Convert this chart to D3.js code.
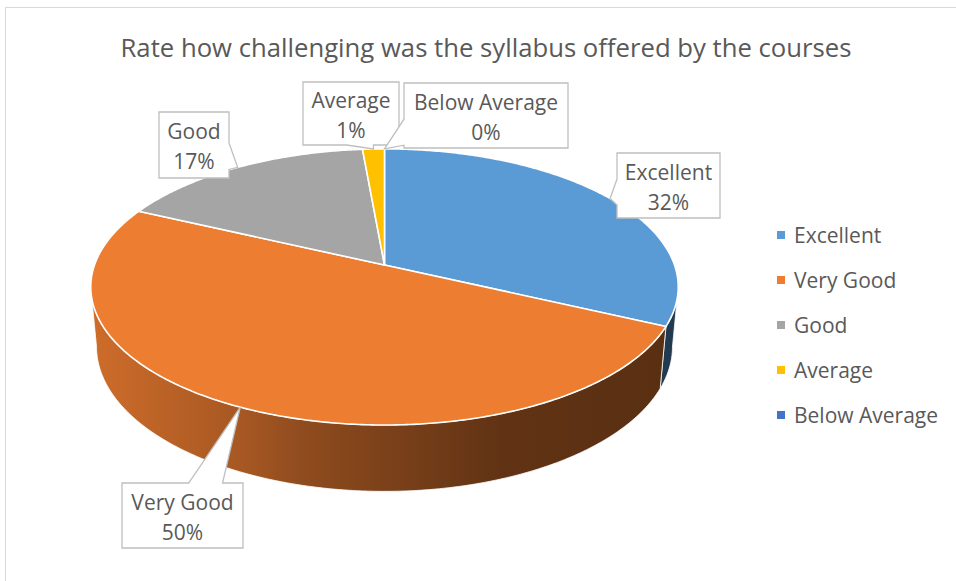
<!DOCTYPE html>
<html>
<head>
<meta charset="utf-8">
<script src="https://cdn.jsdelivr.net/npm/d3@7"></script>
<style>
  body { margin: 0; background: #fff; }
  svg { display: block; }
</style>
</head>
<body>
<script>
// chart data
var categories = ['Excellent', 'Very Good', 'Good', 'Average', 'Below Average'];
var values = [32, 50, 16.6, 1.4, 0];
var colors = ['#5B9BD5', '#ED7D31', '#A5A5A5', '#FFC000', '#4472C4'];
var chartTitle = 'Rate how challenging was the syllabus offered by the courses';

var width = 956, height = 581;
var font = '"Open Sans", "Noto Sans", sans-serif', textColor = '#595959';

// 3d pie geometry (camera tilted looking down at the disc)
var cx = 384.5, cy = 265, R = 290, tilt = Math.asin(0.464), camDist = 1616, thick = 68;

// label boxes (layout only)
var labelBoxes = [
    { x: 617, y: 153, w: 103, h: 65 },
    { x: 122, y: 483, w: 121, h: 65 },
    { x: 159, y: 112, w: 70, h: 66 },
    { x: 303, y: 82, w: 96, h: 63 },
    { x: 404, y: 83, w: 164, h: 65 }
];

var color = d3.scaleOrdinal().domain(categories).range(colors);
var total = d3.sum(values);
var pct = function (v) { return Math.round(v / total * 100) + '%'; };

var pie = d3.pie().sort(null).value(function (d) { return d.value; })
    .startAngle(0).endAngle(2 * Math.PI);
var slices = pie(categories.map(function (c, i) { return { name: c, value: values[i] }; }));

function project(theta, r, y) {
    var x = r * Math.sin(theta), z = -r * Math.cos(theta);
    var d = z * Math.cos(tilt) - y * Math.sin(tilt);
    var sy = z * Math.sin(tilt) + y * Math.cos(tilt);
    var s = camDist / (camDist - d);
    return [cx + x * s, cy + sy * s];
}

function arcPoints(a0, a1, y) {
    var n = Math.max(2, Math.ceil(Math.abs(a1 - a0) / 0.01)), pts = [];
    for (var k = 0; k <= n; k++) pts.push(project(a0 + (a1 - a0) * k / n, R, y));
    return pts;
}

var line = d3.line();

var svg = d3.select('body').append('svg')
    .attr('width', width)
    .attr('height', height);

// chart frame
svg.append('rect')
    .attr('x', 5.5).attr('y', 7.5)
    .attr('width', 1000).attr('height', 1000)
    .attr('fill', '#fff')
    .attr('stroke', '#D9D9D9');

// title
svg.append('text')
    .attr('x', 486).attr('y', 57)
    .attr('text-anchor', 'middle')
    .attr('font-family', font)
    .attr('font-size', '25.7px')
    .attr('fill', textColor)
    .text(chartTitle);

// wall gradients
var defs = svg.append('defs');
var shade = [[0, 0.4], [0.27, 1.04], [0.36, 1.42], [0.7, 2.5], [1, 2.75]];
slices.forEach(function (s, i) {
    var g = defs.append('linearGradient')
        .attr('id', 'wall' + i)
        .attr('gradientUnits', 'userSpaceOnUse')
        .attr('x1', cx - R).attr('x2', cx + R)
        .attr('y1', 0).attr('y2', 0);
    shade.forEach(function (st) {
        g.append('stop')
            .attr('offset', st[0])
            .attr('stop-color', d3.color(color(s.data.name)).darker(st[1]).formatHex());
    });
});

// visible part of the outer wall
var thR = Math.acos(-R * Math.cos(tilt) / camDist), thL = 2 * Math.PI - thR;

svg.append('g').selectAll('path')
    .data(slices.filter(function (s) { return Math.min(s.endAngle, thL) > Math.max(s.startAngle, thR); }))
    .enter().append('path')
    .attr('d', function (s) {
        var a0 = Math.max(s.startAngle, thR), a1 = Math.min(s.endAngle, thL);
        var pts = arcPoints(a0, a1, 0).concat(arcPoints(a1, a0, thick));
        return line(pts) + 'Z';
    })
    .attr('fill', function (s) { return 'url(#wall' + slices.indexOf(s) + ')'; })
    .attr('stroke', '#fff')
    .attr('stroke-width', 0.8)
    .attr('stroke-linejoin', 'round');

// top faces
svg.append('g').selectAll('path')
    .data(slices.filter(function (s) { return s.endAngle > s.startAngle; }))
    .enter().append('path')
    .attr('d', function (s) {
        var pts = [project(0, 0, 0)].concat(arcPoints(s.startAngle, s.endAngle, 0));
        return line(pts) + 'Z';
    })
    .attr('fill', function (s) { return color(s.data.name); })
    .attr('stroke', '#fff')
    .attr('stroke-width', 1.6)
    .attr('stroke-linejoin', 'round');

// callout labels
function callout(b, tip) {
    var bcx = b.x + b.w / 2, bcy = b.y + b.h / 2;
    var dx = (tip[0] - bcx) / b.w, dy = (tip[1] - bcy) / b.h;
    var side, p0, p1;
    if (Math.abs(dx) > Math.abs(dy)) {
        side = dx < 0 ? 'left' : 'right';
        var hw = 0.2 * b.h;
        var c = Math.max(b.y + hw, Math.min(b.y + b.h - hw, (bcy + tip[1]) / 2));
        p0 = c - hw; p1 = c + hw;
    } else {
        side = dy < 0 ? 'top' : 'bottom';
        var hw2 = 0.14 * b.w;
        var c2 = Math.max(b.x + hw2, Math.min(b.x + b.w - hw2, bcx + (tip[0] - bcx) * 0.4));
        p0 = c2 - hw2; p1 = c2 + hw2;
    }
    var x0 = b.x, y0 = b.y, x1 = b.x + b.w, y1 = b.y + b.h, pts = [[x0, y0]];
    if (side === 'top') pts.push([p0, y0], tip, [p1, y0]);
    pts.push([x1, y0]);
    if (side === 'right') pts.push([x1, p0], tip, [x1, p1]);
    pts.push([x1, y1]);
    if (side === 'bottom') pts.push([p1, y1], tip, [p0, y1]);
    pts.push([x0, y1]);
    if (side === 'left') pts.push([x0, p1], tip, [x0, p0]);
    return line(pts) + 'Z';
}

var labels = svg.append('g').selectAll('g')
    .data(slices)
    .enter().append('g');

labels.append('path')
    .attr('d', function (s, i) {
        var mid = (s.startAngle + s.endAngle) / 2;
        return callout(labelBoxes[i], project(mid, R, 0));
    })
    .attr('fill', '#fff')
    .attr('stroke', '#BFBFBF')
    .attr('stroke-width', 1.3);

var lt = labels.append('text')
    .attr('text-anchor', 'middle')
    .attr('font-family', font)
    .attr('font-size', '21px')
    .attr('fill', textColor);
lt.append('tspan')
    .attr('x', function (s, i) { return labelBoxes[i].x + labelBoxes[i].w / 2; })
    .attr('y', function (s, i) { return labelBoxes[i].y + labelBoxes[i].h / 2 - 6; })
    .text(function (s) { return s.data.name; });
lt.append('tspan')
    .attr('x', function (s, i) { return labelBoxes[i].x + labelBoxes[i].w / 2; })
    .attr('y', function (s, i) { return labelBoxes[i].y + labelBoxes[i].h / 2 + 24; })
    .text(function (s) { return pct(s.data.value); });

// legend
var legendY = d3.scalePoint().domain(categories).range([235, 415]);
var legend = svg.append('g').selectAll('g')
    .data(categories)
    .enter().append('g')
    .attr('transform', function (d) { return 'translate(777,' + legendY(d) + ')'; });
legend.append('rect')
    .attr('x', 0).attr('y', -4)
    .attr('width', 8).attr('height', 8)
    .attr('fill', function (d) { return color(d); });
legend.append('text')
    .attr('x', 17).attr('y', 7.5)
    .attr('font-family', font)
    .attr('font-size', '21px')
    .attr('fill', textColor)
    .text(function (d) { return d; });
</script>
</body>
</html>
